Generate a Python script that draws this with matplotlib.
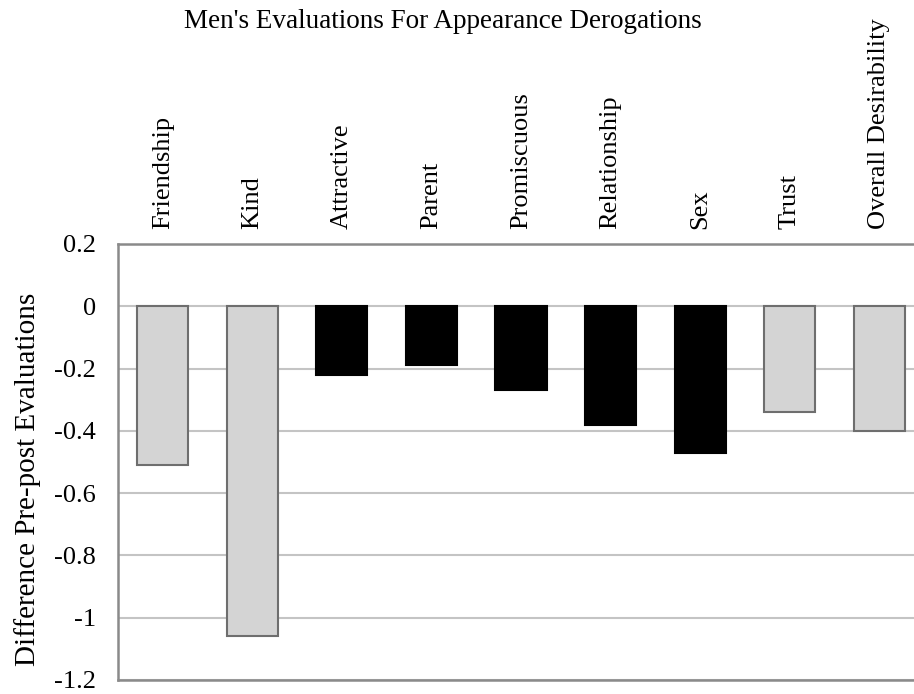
import numpy as np
import matplotlib.pyplot as plt

categories = ['Friendship', 'Kind', 'Attractive', 'Parent', 'Promiscuous',
              'Relationship', 'Sex', 'Trust', 'Overall Desirability']
values = [-0.51, -1.06, -0.22, -0.19, -0.27, -0.38, -0.47, -0.34, -0.40]
# True = appearance item (black), False = other (light gray)
dark = [False, False, True, True, True, True, True, False, False]
yticks = [0.2, 0, -0.2, -0.4, -0.6, -0.8, -1, -1.2]
ytick_labels = ['0.2', '0', '-0.2', '-0.4', '-0.6', '-0.8', '-1', '-1.2']

plt.rcParams['font.family'] = ['Liberation Serif', 'DejaVu Serif']

W, H = 914, 694
fig = plt.figure(figsize=(W / 100, H / 100), dpi=100)
# plot area runs past the right edge of the picture, like the original crop
ax = fig.add_axes([118 / W, 1 - 680 / H, 806 / W, (680 - 244) / H])

x = np.arange(len(categories))
fills = ['black' if d else '#d4d4d4' for d in dark]
edges = ['black' if d else '#6e6e6e' for d in dark]
ax.bar(x, values, width=0.57, color=fills, edgecolor=edges, linewidth=1.5, zorder=3)

ax.set_xlim(-0.5, len(categories) - 0.5)
ax.set_ylim(-1.2, 0.2)
ax.set_yticks(yticks)
ax.set_yticklabels(ytick_labels, fontsize=19)
ax.yaxis.grid(True, color='#c4c4c4', linewidth=1.5, zorder=0)
ax.set_axisbelow(True)

ax.xaxis.tick_top()
ax.set_xticks(x)
ax.set_xticklabels(categories, rotation=90, fontsize=19, va='bottom', ha='center')
ax.tick_params(axis='x', length=0, pad=11)
ax.tick_params(axis='y', length=0, pad=16)

for s in ax.spines.values():
    s.set_color('#8a8a8a')
    s.set_linewidth(1.8)

fig.text(443 / W, 1 - 22 / H, "Men's Evaluations For Appearance Derogations",
         ha='center', va='center', fontsize=19.5)
fig.text(28 / W, 1 - 479 / H, 'Difference Pre-post Evaluations',
         rotation=90, ha='center', va='center', fontsize=21)

plt.savefig('out.png', dpi=100)
